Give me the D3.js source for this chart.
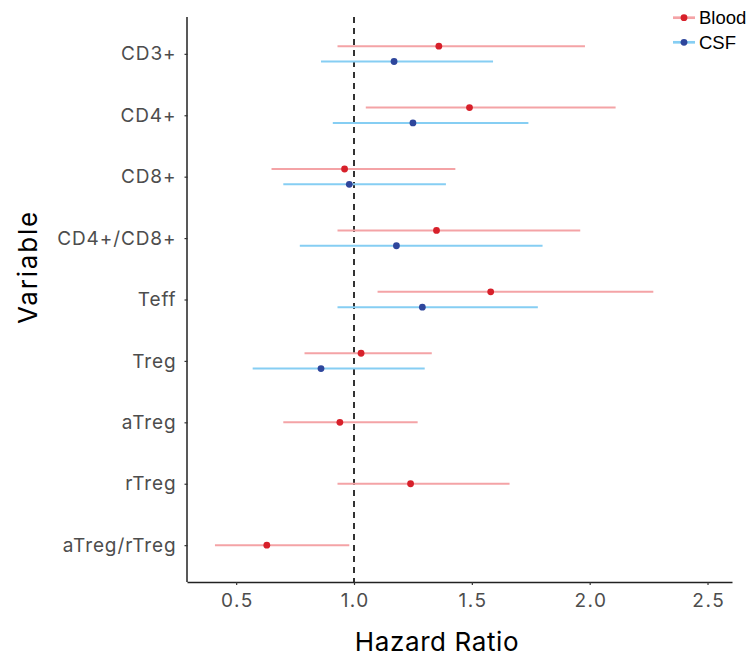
<!DOCTYPE html>
<html>
<head>
<meta charset="utf-8">
<script src="https://cdn.jsdelivr.net/npm/d3@7"></script>
<style>
  html, body { margin: 0; padding: 0; background: #fff; }
  svg { display: block; }
</style>
</head>
<body>
<svg id="chart" width="751" height="658"></svg>
<script>
// Cell populations (top to bottom)
const categories = ["CD3+", "CD4+", "CD8+", "CD4+/CD8+", "Teff", "Treg", "aTreg", "rTreg", "aTreg/rTreg"];

// Blood: hazard ratio with 95% CI
const bloodHR = [1.36, 1.49, 0.96, 1.35, 1.58, 1.03, 0.94, 1.24, 0.63];
const bloodLo = [0.93, 1.05, 0.65, 0.93, 1.10, 0.79, 0.70, 0.93, 0.41];
const bloodHi = [1.98, 2.11, 1.43, 1.96, 2.27, 1.33, 1.27, 1.66, 0.98];

// CSF: hazard ratio with 95% CI (first six populations only)
const csfCategories = ["CD3+", "CD4+", "CD8+", "CD4+/CD8+", "Teff", "Treg"];
const csfHR = [1.17, 1.25, 0.98, 1.18, 1.29, 0.86];
const csfLo = [0.86, 0.91, 0.70, 0.77, 0.93, 0.57];
const csfHi = [1.59, 1.74, 1.39, 1.80, 1.78, 1.30];

const xTicks = [0.5, 1.0, 1.5, 2.0, 2.5];
const seriesNames = ["Blood", "CSF"];

const lineColor = { Blood: "#F4A3A6", CSF: "#86CEF3" };
const dotColor  = { Blood: "#D7202A", CSF: "#2E469C" };

const axisFont = "Inter, 'Noto Sans', sans-serif";

const svg = d3.select("#chart");
const panel = { left: 187.5, right: 732.5, top: 17, bottom: 582 };

const x = d3.scaleLinear().domain([0.2935, 2.606]).range([panel.left, panel.right]);
const y = d3.scalePoint().domain(categories).range([panel.top, panel.bottom]).padding(0.6);
const dodge = y.step() * 0.125;

// Build rows
const rows = [];
categories.forEach((c, i) => {
  const hasCsf = csfCategories.includes(c);
  rows.push({ series: "Blood", cat: c, hr: bloodHR[i], lo: bloodLo[i], hi: bloodHi[i],
              off: hasCsf ? -dodge : 0 });
});
csfCategories.forEach((c, i) => {
  rows.push({ series: "CSF", cat: c, hr: csfHR[i], lo: csfLo[i], hi: csfHi[i], off: dodge });
});

// Reference line at HR = 1
svg.append("line")
  .attr("x1", x(1)).attr("x2", x(1))
  .attr("y1", panel.top).attr("y2", panel.bottom)
  .attr("stroke", "#000").attr("stroke-width", 1.6)
  .attr("stroke-dasharray", "6,5");

// Confidence intervals
svg.append("g").selectAll("line").data(rows).join("line")
  .attr("x1", d => x(d.lo)).attr("x2", d => x(d.hi))
  .attr("y1", d => y(d.cat) + d.off).attr("y2", d => y(d.cat) + d.off)
  .attr("stroke", d => lineColor[d.series]).attr("stroke-width", 2);

// Point estimates
svg.append("g").selectAll("circle").data(rows).join("circle")
  .attr("cx", d => x(d.hr)).attr("cy", d => y(d.cat) + d.off)
  .attr("r", 3.4).attr("fill", d => dotColor[d.series]);

// X axis
const xAxis = svg.append("g")
  .attr("transform", `translate(0,${panel.bottom})`)
  .call(d3.axisBottom(x).tickValues(xTicks).tickFormat(d3.format(".1f")).tickSizeOuter(0).tickSize(3).tickPadding(9));
xAxis.select(".domain").attr("stroke", "#222").attr("stroke-width", 1.5)
  .attr("d", `M${panel.left},0.5H${panel.right}`);
xAxis.selectAll(".tick line").attr("stroke", "#333").attr("stroke-width", 1.2);
xAxis.selectAll(".tick text").attr("fill", "#4d4d4d")
  .attr("dx", "0.75px")
  .style("font-family", axisFont).style("font-size", "19px").style("letter-spacing", "1.5px");

// Y axis
const yAxis = svg.append("g")
  .attr("transform", `translate(${panel.left},0)`)
  .call(d3.axisLeft(y).tickSizeOuter(0).tickSize(3).tickPadding(8));
yAxis.select(".domain").attr("stroke", "#222").attr("stroke-width", 1.5)
  .attr("d", `M-0.5,${panel.top}V${panel.bottom}`);
yAxis.selectAll(".tick line").attr("stroke", "#333").attr("stroke-width", 1.2);
yAxis.selectAll(".tick text").attr("fill", "#4d4d4d")
  .style("font-family", axisFont).style("font-size", "19px").style("letter-spacing", "0.9px");

// Axis titles
svg.append("text")
  .attr("x", 437).attr("y", 651)
  .attr("text-anchor", "middle")
  .style("font-family", axisFont).style("font-size", "26px").style("letter-spacing", "0.6px")
  .attr("fill", "#000")
  .text("Hazard Ratio");

svg.append("text")
  .attr("transform", "translate(37,267) rotate(-90)")
  .attr("text-anchor", "middle")
  .style("font-family", axisFont).style("font-size", "26px").style("letter-spacing", "1.8px")
  .attr("fill", "#000")
  .text("Variable");

// Legend
const legend = svg.append("g");
seriesNames.forEach((s, i) => {
  const ly = 17.7 + i * 24.6;
  legend.append("line")
    .attr("x1", 673).attr("x2", 695).attr("y1", ly).attr("y2", ly)
    .attr("stroke", lineColor[s]).attr("stroke-width", 2.7);
  legend.append("circle")
    .attr("cx", 684).attr("cy", ly).attr("r", 3.4).attr("fill", dotColor[s]);
  legend.append("text")
    .attr("x", 699).attr("y", ly + 6.5)
    .style("font-family", "'Liberation Sans', Arial, sans-serif").style("font-size", "18.5px")
    .attr("fill", "#000")
    .text(s);
});
</script>
</body>
</html>
